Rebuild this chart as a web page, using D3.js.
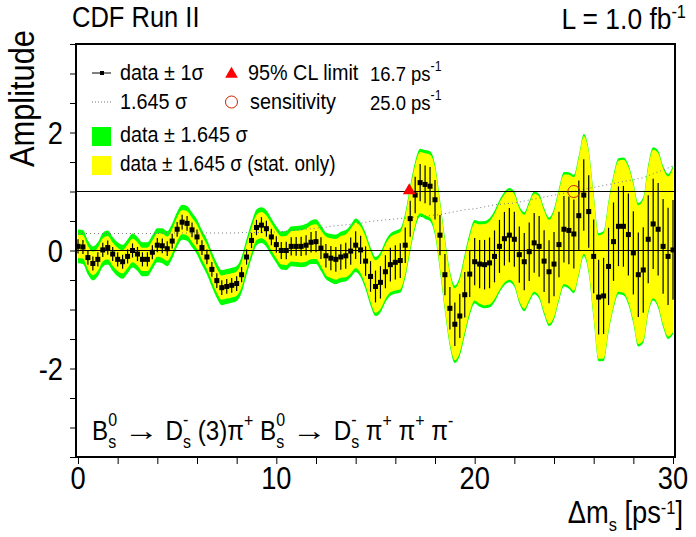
<!DOCTYPE html>
<html><head><meta charset="utf-8">
<script src="https://cdn.jsdelivr.net/npm/d3@7"></script>
<style>
body{margin:0;background:#fff}
svg{display:block}
text{font-family:"Liberation Sans",Arial,Helvetica,sans-serif;white-space:pre}
</style>
</head><body>
<svg id="c" width="696" height="537"></svg>
<script>
// ---- data ----
const dmStart = 0, dmStep = 0.25;
const amplitude = [
 0.07,0.06,-0.12,-0.22,-0.15, 0.01,0.05,-0.06,-0.15,-0.19,
 -0.10,0.00,-0.06,-0.15,-0.15, -0.03,0.09,0.08,0.03,0.16,
 0.36,0.48,0.46,0.35,0.23, 0.05,-0.11,-0.32,-0.51,-0.63,
 -0.61,-0.59,-0.56,-0.41,-0.11, 0.17,0.39,0.43,0.37,0.23,
 0.10,0.00,0.00,0.07,0.07, 0.07,0.09,0.14,0.15,0.04,
 -0.09,-0.13,-0.15,-0.11,-0.09, -0.01,0.09,0.01,-0.18,-0.44,
 -0.61,-0.54,-0.36,-0.24,-0.20, -0.17,0.09,0.54,0.94,1.15,
 1.12,1.09,0.86,0.26,-0.41, -0.98,-1.25,-1.11,-0.75,-0.40,
 -0.19,-0.23,-0.24,-0.21,-0.10, 0.07,0.20,0.26,0.19,-0.07,
 -0.19,-0.02,0.13,0.07,-0.18, -0.36,-0.23,0.10,0.36,0.34,
 0.28,0.59,0.94,0.66,-0.10, -0.79,-0.77,-0.27,0.15,0.41,
 0.41,0.27,-0.04,-0.41,-0.33, 0.19,0.45,0.36,0.07,-0.10,
 0.01];
const sigmaTot = [
 0.175,0.175,0.175,0.175,0.175, 0.175,0.175,0.175,0.175,0.175,
 0.175,0.175,0.175,0.175,0.175, 0.175,0.175,0.18,0.18,0.18,
 0.18,0.18,0.18,0.18,0.18, 0.18,0.18,0.18,0.18,0.18,
 0.18,0.18,0.18,0.185,0.185, 0.185,0.185,0.185,0.19,0.19,
 0.19,0.195,0.20,0.205,0.21, 0.215,0.22,0.225,0.23,0.235,
 0.24,0.25,0.255,0.26,0.265, 0.27,0.275,0.28,0.29,0.30,
 0.305,0.31,0.315,0.32,0.325, 0.33,0.335,0.34,0.345,0.35,
 0.355,0.36,0.365,0.37,0.38, 0.39,0.40,0.41,0.42,0.425,
 0.43,0.44,0.45,0.46,0.47, 0.475,0.48,0.485,0.49,0.50,
 0.51,0.52,0.53,0.54,0.55, 0.56,0.57,0.58,0.59,0.60,
 0.61,0.62,0.63,0.64,0.65, 0.66,0.67,0.68,0.69,0.70,
 0.71,0.72,0.73,0.74,0.75, 0.77,0.79,0.81,0.83,0.85,
 0.87];
const sigmaStat = [
 0.12,0.12,0.12,0.12,0.12, 0.12,0.12,0.12,0.12,0.12,
 0.12,0.12,0.12,0.12,0.12, 0.12,0.12,0.125,0.125,0.125,
 0.125,0.125,0.125,0.125,0.125, 0.125,0.125,0.125,0.125,0.125,
 0.125,0.125,0.125,0.13,0.13, 0.13,0.13,0.135,0.135,0.14,
 0.14,0.145,0.15,0.155,0.16, 0.165,0.17,0.175,0.18,0.185,
 0.20,0.205,0.21,0.215,0.22, 0.23,0.235,0.24,0.25,0.26,
 0.27,0.275,0.28,0.285,0.29, 0.295,0.30,0.305,0.31,0.315,
 0.32,0.325,0.335,0.34,0.35, 0.36,0.37,0.375,0.385,0.39,
 0.40,0.41,0.42,0.43,0.44, 0.45,0.455,0.46,0.465,0.475,
 0.485,0.495,0.505,0.515,0.525, 0.535,0.545,0.555,0.565,0.575,
 0.585,0.595,0.605,0.615,0.625, 0.635,0.645,0.655,0.665,0.675,
 0.685,0.695,0.705,0.715,0.725, 0.745,0.765,0.785,0.805,0.825,
 0.845];
const xTickLabels = [0,10,20,30];
const yTickLabels = [-2,0,2];
const limit95 = 16.7;
const sensitivity = 25.0;
const refLines = [0,1];

// ---- drawing ----
const svg = d3.select('#c');
const fr = {l:76, r:675, t:44, b:457};
const x = d3.scaleLinear().domain([-0.1,30.1]).range([fr.l, fr.r]);
const y = d3.scaleLinear().domain([-3.5,3.5]).range([fr.b, fr.t]);
const pts = amplitude.map((a,i)=>({dm: dmStart+i*dmStep, a, st: sigmaTot[i], ss: sigmaStat[i]}));

svg.append('defs').append('clipPath').attr('id','clip')
  .append('rect').attr('x',fr.l).attr('y',fr.t).attr('width',fr.r-fr.l).attr('height',fr.b-fr.t);
const plot = svg.append('g').attr('clip-path','url(#clip)');

const K = 1.645;
plot.append('path').datum(pts)
  .attr('d', d3.area().x(d=>x(d.dm)).y0(d=>y(d.a-K*d.st)).y1(d=>y(d.a+K*d.st)).curve(d3.curveMonotoneX))
  .attr('fill','#00ff00');
plot.append('path').datum(pts)
  .attr('d', d3.area().x(d=>x(d.dm)).y0(d=>y(d.a-K*d.ss)).y1(d=>y(d.a+K*d.ss)).curve(d3.curveMonotoneX))
  .attr('fill','#ffff00');
plot.append('path').datum(pts)
  .attr('d', d3.line().x(d=>x(d.dm)).y(d=>y(K*d.st)).curve(d3.curveMonotoneX))
  .attr('fill','none').attr('stroke','#777').attr('stroke-width',1).attr('stroke-dasharray','1,3');
refLines.forEach(v=>{
  plot.append('line').attr('x1',fr.l).attr('x2',fr.r).attr('y1',y(v)).attr('y2',y(v))
    .attr('stroke','#000').attr('stroke-width',1.2);
});
plot.selectAll('line.eb').data(pts).enter().append('line').attr('class','eb')
  .attr('x1',d=>x(d.dm)).attr('x2',d=>x(d.dm))
  .attr('y1',d=>y(d.a+d.ss)).attr('y2',d=>y(d.a-d.ss))
  .attr('stroke','#000').attr('stroke-width',1.2);
plot.selectAll('rect.pt').data(pts).enter().append('rect').attr('class','pt')
  .attr('x',d=>x(d.dm)-2.5).attr('y',d=>y(d.a)-2.5).attr('width',5).attr('height',5).attr('fill','#000');
// limit markers
const tri = d3.symbol().type(d3.symbolTriangle).size(70);
plot.append('path').attr('d',tri()).attr('transform',`translate(${x(limit95)},${y(1)-1})`).attr('fill','#ff0000');
plot.append('circle').attr('cx',x(sensitivity)).attr('cy',y(1)).attr('r',6)
  .attr('fill','none').attr('stroke','#cc2200').attr('stroke-width',1);

// frame
svg.append('rect').attr('x',fr.l).attr('y',fr.t).attr('width',fr.r-fr.l).attr('height',fr.b-fr.t)
  .attr('fill','none').attr('stroke','#000').attr('stroke-width',2);

// axes
const xAxis = d3.axisBottom(x).tickValues(d3.range(0,31,2)).tickSize(6).tickFormat('');
svg.append('g').attr('transform',`translate(0,${fr.b+1})`).call(xAxis)
  .call(g=>{g.select('.domain').remove(); g.selectAll('line').attr('stroke','#000').attr('stroke-width',1);});
const yAxis = d3.axisLeft(y).tickValues(d3.range(-3.5,3.51,0.5)).tickSize(5).tickFormat('');
svg.append('g').attr('transform',`translate(${fr.l-1},0)`).call(yAxis)
  .call(g=>{g.select('.domain').remove(); g.selectAll('line').attr('stroke','#000').attr('stroke-width',1);});

const SX = 0.88; // horizontal compression of the original lettering
function rich(parent, px, py, parts, size, anchor, opt) {
  opt = Object.assign({sm:0.66, up:0.48}, opt||{});
  const g = parent.append('g');
  const inner = g.append('g');
  let cx = 0;
  const sm = size*opt.sm;
  for (const p of parts) {
    const kind = p[1] || 'n';
    if (kind === 'n') {
      const t = inner.append('text').attr('x',cx).attr('y',0).attr('font-size',size).text(p[0]);
      cx += t.node().getComputedTextLength();
    } else if (kind === 'arr') {
      const t = inner.append('text').attr('x',0).attr('y',0).attr('font-size',size)
        .attr('font-family','DejaVu Sans').text(p[0]);
      const L = t.node().getComputedTextLength();
      t.attr('transform',`translate(${cx},0) scale(1.45,1)`);
      cx += L*1.45;
    } else if (kind === 'sup') {
      const t = inner.append('text').attr('x',cx).attr('y',-size*opt.up).attr('font-size',sm).text(p[0]);
      cx += t.node().getComputedTextLength();
    } else if (kind === 'sub') {
      const t = inner.append('text').attr('x',cx).attr('y',size*0.26).attr('font-size',sm).text(p[0]);
      cx += t.node().getComputedTextLength();
    } else if (kind === 'ss') {
      const t1 = inner.append('text').attr('x',cx).attr('y',size*0.29).attr('font-size',sm).text(p[0]);
      const t2 = inner.append('text').attr('x',cx).attr('y',-size*0.5).attr('font-size',sm).text(p[2]);
      cx += Math.max(t1.node().getComputedTextLength(), t2.node().getComputedTextLength());
    }
  }
  const w = cx*SX;
  const ox = anchor==='end' ? px-w : anchor==='middle' ? px-w/2 : px;
  g.attr('transform',`translate(${ox},${py})`);
  inner.attr('transform',`scale(${SX},1)`);
  return g;
}

// titles
rich(svg, 72, 27, [['CDF Run II']], 29);
rich(svg, 686, 29, [['L = 1.0 fb'],['-1','sup']], 30, 'end', {sm:0.62, up:0.38});
const at = svg.append('g').attr('transform','translate(34,30) rotate(-90)');
rich(at, 0, 0, [['Amplitude']], 35, 'end');

yTickLabels.forEach(v=>rich(svg, 63, y(v)+11, [[String(v)]], 31, 'end'));
xTickLabels.forEach(v=>rich(svg, x(v), 489, [[String(v)]], 31, 'middle'));
rich(svg, 683, 523, [['\u0394m'],['s','sub'],[' [ps'],['-1','sup'],[']']], 31, 'end', {sm:0.6, up:0.3});

// formula
rich(svg, 92, 440, [['B'],['s','ss','0'],[' '],['\u2192','arr'],[' D'],['s','ss','-'],[' (3)\u03c0'],['+','sup'],[' B'],['s','ss','0'],
  [' '],['\u2192','arr'],[' D'],['s','ss','-'],[' \u03c0'],['+','sup'],[' \u03c0'],['+','sup'],[' \u03c0'],['-','sup']], 27.5);

// legend
const LF = 22.5;
const lg = svg.append('g');
lg.append('line').attr('x1',92).attr('x2',111).attr('y1',73).attr('y2',73).attr('stroke','#000').attr('stroke-width',1);
lg.append('rect').attr('x',100).attr('y',71).attr('width',4).attr('height',4).attr('fill','#000');
rich(lg, 120, 80, [['data \u00b1 1\u03c3']], LF);
lg.append('line').attr('x1',92).attr('x2',111).attr('y1',102).attr('y2',102).attr('stroke','#777').attr('stroke-dasharray','1,2');
rich(lg, 120, 109, [['1.645 \u03c3']], LF);
lg.append('path').attr('d',tri()).attr('transform','translate(231.5,74)').attr('fill','#ff0000');
rich(lg, 248, 80, [['95% CL limit']], LF);
lg.append('circle').attr('cx',231.5).attr('cy',102).attr('r',6).attr('fill','none').attr('stroke','#cc2200').attr('stroke-width',1);
rich(lg, 250, 109, [['sensitivity']], LF);
rich(lg, 370, 81, [[limit95.toFixed(1)+' ps'],['-1','sup']], 21);
rich(lg, 370, 110, [[sensitivity.toFixed(1)+' ps'],['-1','sup']], 21);
lg.append('rect').attr('x',92).attr('y',127).attr('width',19).attr('height',19).attr('fill','#00ff00');
rich(lg, 120, 142, [['data \u00b1 1.645 \u03c3']], LF);
lg.append('rect').attr('x',92).attr('y',156).attr('width',19).attr('height',19).attr('fill','#ffff00');
rich(lg, 120, 171, [['data \u00b1 1.645 \u03c3 (stat. only)']], 21.5);
</script>
</body></html>
